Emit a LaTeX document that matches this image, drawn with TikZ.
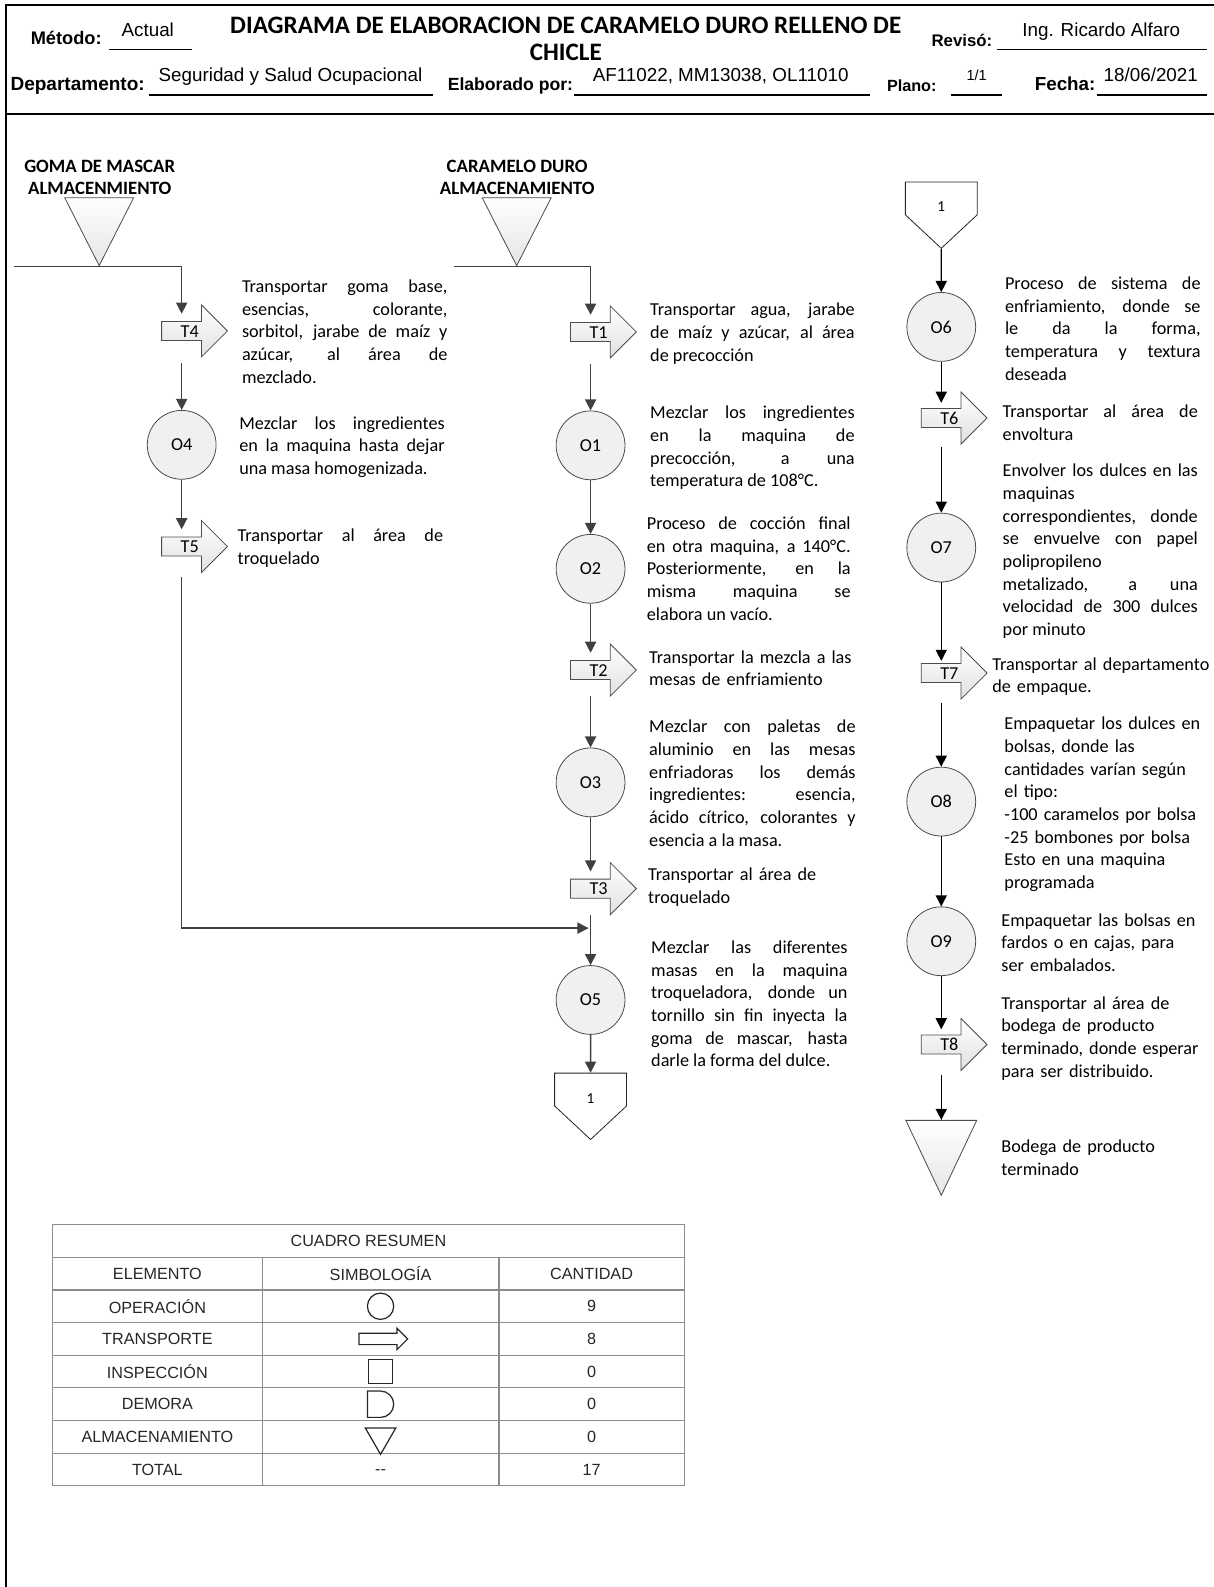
\documentclass[tikz,border=0pt]{standalone}
\usepackage{fontspec}
\setmainfont{Carlito}
\newfontfamily\arialf{Liberation Sans}
\usetikzlibrary{arrows.meta,shapes.geometric,shapes.arrows,shapes.symbols,calc}

\newcommand{\txtfont}{\fontsize{9}{11.2}\selectfont\tolerance=10000\hbadness=10000}
\newcommand{\tabfont}{\arialf\fontsize{8}{9.6}\selectfont}

\tikzset{
  flow/.style={draw=black!75,line width=0.7pt,-{Triangle[length=5.5pt,width=5.5pt]}},
  flown/.style={flow,draw=black},
  oper/.style={circle,draw=black!70,fill=black!6,minimum size=34pt,inner sep=0pt,font=\txtfont},
  transp/.style={single arrow,draw=black!70,top color=white,bottom color=black!12,minimum height=32.5pt,minimum width=25.3pt,single arrow head extend=8.15pt,inner xsep=0pt,inner ysep=1.5pt,text height=6pt,text depth=0pt,font=\txtfont},
  almac/.style={isosceles triangle,shape border rotate=270,isosceles triangle stretches,draw=black!70,top color=white,bottom color=black!10,minimum width=34pt,minimum height=33.5pt,inner sep=0pt,anchor=apex},
  conect/.style={signal,signal to=south,signal from=nowhere,signal pointer angle=94,draw=black!85,fill=white,minimum width=35.5pt,minimum height=18pt,inner sep=0pt,text height=13.4pt,text depth=0pt,font=\fontsize{7.5}{9}\selectfont},
  desc/.style={anchor=north west,yshift=5pt,inner sep=0pt,font=\txtfont,align=justify,text width=#1,execute at begin node=\strut},
  descl/.style={desc=#1,align=left},
  encab/.style={font=\bfseries\fontsize{9.3}{11}\selectfont,align=center,inner sep=0pt},
  hdlab/.style={anchor=base west,inner sep=0pt,font=\arialf\bfseries\fontsize{#1}{11}\selectfont},
  hdval/.style={anchor=base,inner sep=0pt,font=\arialf\fontsize{#1}{11}\selectfont},
  hdval/.default=9.3,
  tabc/.style={inner sep=0pt,font=\tabfont,text=black!85},
  tabl/.style={draw=black!45,line width=0.6pt},
  simb/.style={draw=black!85,fill=white,line width=0.6pt,inner sep=0pt}
}

\begin{document}
\begin{tikzpicture}[x=0.5pt,y=-0.5pt]
\useasboundingbox (0,0) rectangle (1199,1568);

% marco y encabezado
\draw[line width=1pt] (1199,5) -- (6,5) -- (6,1568);
\draw[line width=0.9pt] (6,113) -- (1199,113);

\node[hdlab=9] (lmet) at (30,44) {Método:};
\node[hdval] (vmet) at (146,36) {Actual};
\draw[line width=0.8pt] (108,49) -- (190,49);
\node[font=\bfseries\fontsize{12.4}{13.5}\selectfont,align=center,inner sep=0pt] (titulo) at (559,38.5) {DIAGRAMA DE ELABORACION DE CARAMELO DURO RELLENO DE\\CHICLE};
\node[hdlab=8.3] (lrev) at (920,46) {Revisó:};
\node[hdval] (vrev) at (1088,36) {Ing. Ricardo Alfaro};
\draw[line width=0.8pt] (985,49) -- (1193,49);

\node[hdlab=9.4] (ldep) at (10,89) {Departamento:};
\node[hdval] (vdep) at (287,81) {Seguridad y Salud Ocupacional};
\draw[line width=0.8pt] (147,94) -- (428,94);
\node[hdlab=8.7] (lela) at (442,89) {Elaborado por:};
\node[hdval] (vela) at (712,81) {AF11022, MM13038, OL11010};
\draw[line width=0.8pt] (567,94) -- (860,94);
\node[hdlab=8] (lpla) at (876,90) {Plano:};
\node[hdval=7.2] (vpla) at (965,80) {1/1};
\draw[line width=0.8pt] (940,94) -- (990,94);
\node[hdlab=9.3] (lfec) at (1022,89) {Fecha:};
\node[hdval] (vfec) at (1137,81) {18/06/2021};
\draw[line width=0.8pt] (1084,94) -- (1193,94);

% columna goma de mascar
\node[encab] (gomaH) at (98.5,175) {GOMA DE MASCAR\\ALMACENMIENTO};
\node[almac] (gomaT) at (98,263.5) {};
\coordinate (gomaIn) at (14,263.5);
\node[transp] (T4) at (187.5,327) {T4};
\node[oper] (O4) at (179.5,439.5) {O4};
\node[transp] (T5) at (187.5,540) {T5};
\coordinate (union) at (583.5,917);

\draw[flow] (gomaIn) -- (gomaT.apex) -| ($(T4)+(-8,-17)$);
\draw[flow] ($(T4)+(-8,32)$) -- (O4);
\draw[flow] (O4) -- ($(T5)+(-8,-17)$);
\draw[flow,shorten >=1pt] ($(T5)+(-8,30)$) |- (union);

\node[desc=101.5pt] (dT4) at (238.7,283) {Transportar goma base,\linebreak esencias, colorante,\linebreak sorbitol, jarabe de maíz y\linebreak azúcar, al área de\linebreak mezclado.};
\node[desc=101.5pt] (dO4) at (236,418) {Mezclar los ingredientes\linebreak en la maquina hasta dejar\linebreak una masa homogenizada.};
\node[desc=101.5pt] (dT5) at (234.4,529) {Transportar al área de\linebreak troquelado};

% columna caramelo duro
\node[encab] (caraH) at (511,175) {CARAMELO DURO\\ALMACENAMIENTO};
\node[almac] (caraT) at (510.5,263.5) {};
\coordinate (caraIn) at (449,263.5);
\node[transp] (T1) at (591.5,328) {T1};
\node[oper] (O1) at (583.5,440) {O1};
\node[oper] (O2) at (583.5,562) {O2};
\node[transp] (T2) at (591.5,662) {T2};
\node[oper] (O3) at (583.5,773) {O3};
\node[transp] (T3) at (591.5,878) {T3};
\node[oper] (O5) at (583.5,988) {O5};
\node[conect] (con1) at (583.5,1076.5) {1};

\draw[flow] (caraIn) -- (caraT.apex) -| ($(T1)+(-8,-17)$);
\draw[flow] ($(T1)+(-8,32)$) -- (O1);
\draw[flow] (O1) -- (O2);
\draw[flow] (O2) -- ($(T2)+(-8,-17)$);
\draw[flow] ($(T2)+(-8,26)$) -- (O3);
\draw[flow] (O3) -- ($(T3)+(-8,-17)$);
\draw[flow] ($(T3)+(-8,26)$) -- (O5);
\draw[flow] (O5) -- (con1);

\node[desc=101pt] (dT1) at (642,306) {Transportar agua, jarabe\linebreak de maíz y azúcar, al área\linebreak de precocción};
\node[desc=101pt] (dO1) at (642,407.6) {Mezclar los ingredientes\linebreak en la maquina de\linebreak precocción, a una\linebreak temperatura de 108°C.};
\node[desc=100.7pt] (dO2) at (638.7,517) {Proceso de cocción final\linebreak en otra maquina, a 140°C.\linebreak Posteriormente, en la\linebreak misma maquina se\linebreak elabora un vacío.};
\node[descl=110pt] (dT2) at (641,649) {Transportar la mezcla a las\\mesas de enfriamiento};
\node[desc=102pt] (dO3) at (641,718) {Mezclar con paletas de\linebreak aluminio en las mesas\linebreak enfriadoras los demás\linebreak ingredientes: esencia,\linebreak ácido cítrico, colorantes y\linebreak esencia a la masa.};
\node[descl=110pt] (dT3) at (640,864) {Transportar al área de\\troquelado};
\node[desc=97pt] (dO5) at (643,936) {Mezclar las diferentes\linebreak masas en la maquina\linebreak troqueladora, donde un\linebreak tornillo sin fin inyecta la\linebreak goma de mascar, hasta\linebreak darle la forma del dulce.};

% columna final
\node[conect] (con2) at (930,196) {1};
\node[oper] (O6) at (930,323) {O6};
\node[transp] (T6) at (938,413) {T6};
\node[oper] (O7) at (930,541) {O7};
\node[transp] (T7) at (938,665) {T7};
\node[oper] (O8) at (930,792) {O8};
\node[oper] (O9) at (930,930) {O9};
\node[transp] (T8) at (938,1032) {T8};
\node[almac,minimum width=35pt,minimum height=37pt] (alm3) at (930,1182) {};

\draw[flown] (con2) -- (O6);
\draw[flown] (O6) -- ($(T6)+(-8,-15)$);
\draw[flown] ($(T6)+(-8,29)$) -- (O7);
\draw[flown] (O7) -- ($(T7)+(-8,-12)$);
\draw[flown] ($(T7)+(-8,30)$) -- (O8);
\draw[flown] (O8) -- (O9);
\draw[flown] (O9) -- ($(T8)+(-8,-15)$);
\draw[flown] ($(T8)+(-8,30)$) -- (alm3);

\node[desc=96.6pt] (dO6) at (992.6,279.8) {Proceso de sistema de\linebreak enfriamiento, donde se\linebreak le da la forma,\linebreak temperatura y textura\linebreak deseada};
\node[desc=96.4pt] (dT6) at (990.3,406.6) {Transportar al área de\linebreak envoltura};
\node[desc=96.4pt] (dO7) at (990.3,465) {Envolver los dulces en las\linebreak maquinas\linebreak correspondientes, donde\linebreak se envuelve con papel\linebreak polipropileno\linebreak metalizado, a una\linebreak velocidad de 300 dulces\linebreak por minuto};
\node[descl=110pt] (dT7) at (980,656) {Transportar al departamento\\de empaque.};
\node[descl=100pt] (dO8) at (992,715) {Empaquetar los dulces en\\bolsas, donde las\\cantidades varían según\\el tipo:\\-100 caramelos por bolsa\\-25 bombones por bolsa\\Esto en una maquina\\programada};
\node[descl=100pt] (dO9) at (989,909) {Empaquetar las bolsas en\\fardos o en cajas, para\\ser embalados.};
\node[descl=105pt] (dT8) at (989,991) {Transportar al área de\\bodega de producto\\terminado, donde esperar\\para ser distribuido.};
\node[descl=100pt] (dAlm) at (989,1133) {Bodega de producto\\terminado};

% cuadro resumen
\draw[tabl] (52,1210) rectangle (676,1468);
\draw[tabl] (52,1242.25) -- (676,1242.25);
\draw[tabl] (52,1274.5) -- (676,1274.5);
\draw[tabl] (52,1306.75) -- (676,1306.75);
\draw[tabl] (52,1339) -- (676,1339);
\draw[tabl] (52,1371.25) -- (676,1371.25);
\draw[tabl] (52,1403.5) -- (676,1403.5);
\draw[tabl] (52,1435.75) -- (676,1435.75);
\draw[tabl] (259,1242.25) -- (259,1468);
\draw[tabl] (493,1242.25) -- (493,1468);

\node[tabc] (tTit) at (364,1226.1) {CUADRO RESUMEN};
\node[tabc] (tEle) at (155.5,1258.4) {ELEMENTO};
\node[tabc] (tSim) at (376,1258.4) {SIMBOLOGÍA};
\node[tabc] (tCan) at (584.5,1258.4) {CANTIDAD};
\node[tabc] (tOpe) at (155.5,1290.6) {OPERACIÓN};
\node[tabc] (tTra) at (155.5,1322.9) {TRANSPORTE};
\node[tabc] (tIns) at (155.5,1355.1) {INSPECCIÓN};
\node[tabc] (tDem) at (155.5,1387.4) {DEMORA};
\node[tabc] (tAlm) at (155.5,1419.6) {ALMACENAMIENTO};
\node[tabc] (tTot) at (155.5,1451.9) {TOTAL};
\node[tabc] (nOpe) at (584.5,1290.6) {9};
\node[tabc] (nTra) at (584.5,1322.9) {8};
\node[tabc] (nIns) at (584.5,1355.1) {0};
\node[tabc] (nDem) at (584.5,1387.4) {0};
\node[tabc] (nAlm) at (584.5,1419.6) {0};
\node[tabc] (nTot) at (584.5,1451.9) {17};
\node[tabc] (sTot) at (376,1454) {{-}{-}};

\node[simb,circle,minimum size=13pt] (sOpe) at (376,1290.6) {};
\node[simb,single arrow,minimum height=24pt,minimum width=10pt,single arrow head extend=2.5pt,inner ysep=2.5pt] (sTra) at (376,1322.9) {};
\node[simb,minimum size=12pt] (sIns) at (376,1355.1) {};
\draw[draw=black!85,line width=0.6pt] (363,1374.4) -- (376,1374.4) arc[start angle=90,end angle=-90,radius=6.5pt] -- (363,1400.4) -- cycle;
\node[simb,isosceles triangle,shape border rotate=270,isosceles triangle stretches,minimum width=15pt,minimum height=13pt] (sAlm) at (376,1419.6) {};
\end{tikzpicture}
\end{document}
